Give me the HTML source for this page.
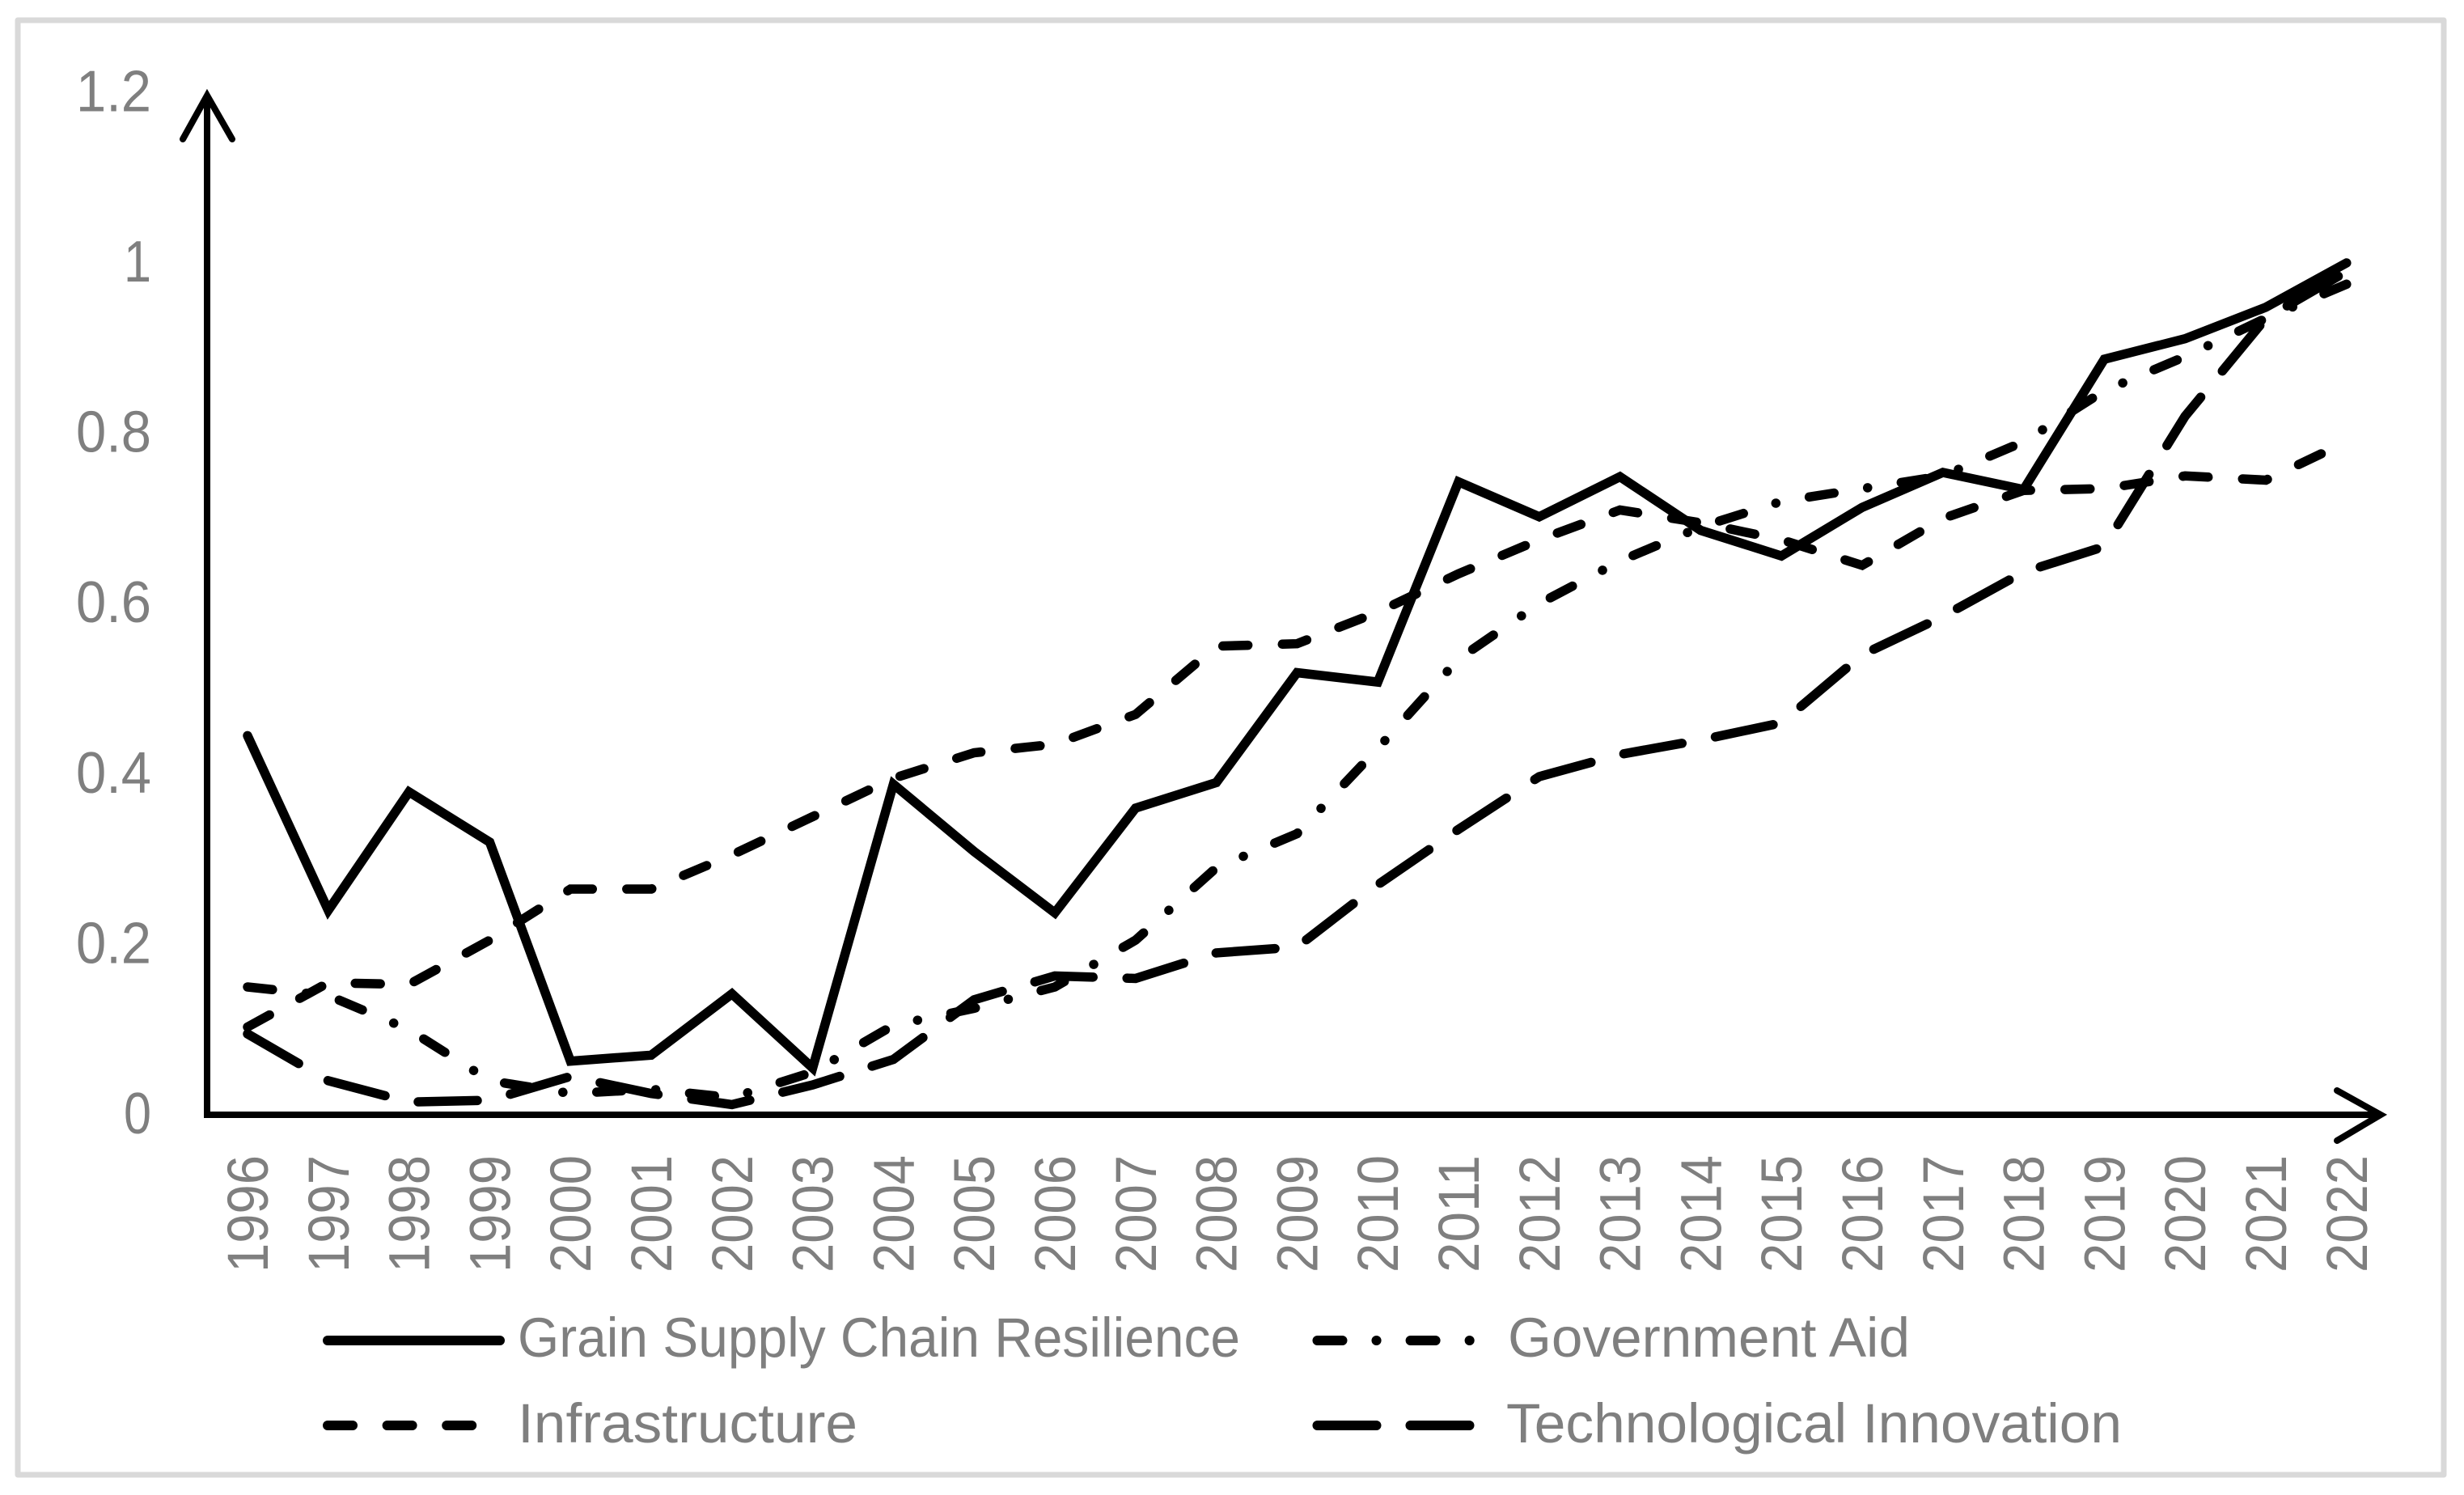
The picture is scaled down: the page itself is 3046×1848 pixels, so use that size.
<!DOCTYPE html>
<html lang="en">
<head>
<meta charset="utf-8">
<title>Grain Supply Chain Resilience Chart</title>
<style>
html,body{margin:0;padding:0;background:#fff;width:3046px;height:1848px;overflow:hidden}
svg{display:block}
text{font-family:"Liberation Sans",sans-serif;fill:#7f7f7f}
</style>
</head>
<body>
<svg id="chart" xmlns="http://www.w3.org/2000/svg" width="3046" height="1848" viewBox="0 0 3046 1848">
  <rect x="22" y="25" width="2999" height="1798" fill="#fff" stroke="#d9d9d9" stroke-width="7" stroke-linejoin="round"/>
  <g id="y-labels"></g>
  <g id="x-labels"></g>
  <g id="series" fill="none" stroke="#000" stroke-linecap="round" stroke-linejoin="miter"></g>
  <g fill="none" stroke="#000" stroke-width="8">
    <line x1="256" y1="1382" x2="256" y2="120"/>
    <polyline points="226,172 256,118 287,172" stroke-linecap="round"/>
  </g>
  <g fill="none" stroke="#000" stroke-width="8">
    <line x1="253" y1="1378" x2="2940" y2="1378"/>
    <polyline points="2889,1348 2943,1378 2889,1410" stroke-linecap="round"/>
  </g>
  <g>
    <g>
      <line x1="405" y1="1657" x2="618" y2="1657" stroke="#000" stroke-width="12" stroke-linecap="round"/>
      <text x="640" y="1677" font-size="69" textLength="893" lengthAdjust="spacingAndGlyphs">Grain Supply Chain Resilience</text>
    </g>
    <g>
      <line x1="1628.5" y1="1657" x2="1822" y2="1657" stroke="#000" stroke-width="12" stroke-linecap="round" stroke-dasharray="31 42 0.1 42"/>
      <text x="1864" y="1677" font-size="69" textLength="497" lengthAdjust="spacingAndGlyphs">Government Aid</text>
    </g>
    <g>
      <line x1="405" y1="1762" x2="590" y2="1762" stroke="#000" stroke-width="12" stroke-linecap="round" stroke-dasharray="31 42.6"/>
      <text x="640" y="1783" font-size="69" textLength="420" lengthAdjust="spacingAndGlyphs">Infrastructure</text>
    </g>
    <g>
      <line x1="1628.5" y1="1762" x2="1817" y2="1762" stroke="#000" stroke-width="12" stroke-linecap="round" stroke-dasharray="73 42"/>
      <text x="1862" y="1783" font-size="69" textLength="761" lengthAdjust="spacingAndGlyphs">Technological Innovation</text>
    </g>
  </g>
</svg>
<script>
const years = [1996,1997,1998,1999,2000,2001,2002,2003,2004,2005,2006,2007,2008,2009,2010,2011,2012,2013,2014,2015,2016,2017,2018,2019,2020,2021,2022];
const yTicks = ["0","0.2","0.4","0.6","0.8","1","1.2"];
const grainResilience = [0.445,0.24,0.379,0.32,0.063,0.07,0.142,0.055,0.388,0.309,0.237,0.36,0.39,0.519,0.508,0.743,0.702,0.749,0.686,0.656,0.713,0.754,0.734,0.887,0.911,0.948,1.0];
const governmentAid = [0.15,0.14,0.1,0.04,0.025,0.03,0.02,0.05,0.105,0.125,0.15,0.205,0.29,0.33,0.43,0.535,0.6,0.65,0.69,0.72,0.735,0.75,0.79,0.85,0.89,0.935,0.975];
const infrastructure = [0.103,0.155,0.153,0.205,0.265,0.265,0.305,0.35,0.395,0.425,0.435,0.47,0.55,0.553,0.59,0.635,0.675,0.71,0.695,0.675,0.645,0.7,0.733,0.735,0.75,0.745,0.79];
const technologicalInnovation = [0.095,0.04,0.015,0.017,0.045,0.025,0.012,0.035,0.065,0.135,0.163,0.16,0.19,0.197,0.27,0.335,0.397,0.423,0.44,0.46,0.54,0.585,0.637,0.667,0.82,0.935,0.99];

const NS = 'http://www.w3.org/2000/svg';
function xScale(i){ return 306 + 99.8 * i; }
function yScale(v){ return 1378 - 1053 * v; }

const yGroup = document.getElementById('y-labels');
yTicks.forEach(function(label){
  const t = document.createElementNS(NS, 'text');
  
  
  t.setAttribute('x', 187);
  t.setAttribute('y', yScale(parseFloat(label)) + 23);
  t.setAttribute('font-size', '72');
  t.setAttribute('text-anchor', 'end');
  t.textContent = label;
  t.setAttribute('textLength', label.length === 1 ? 34 : 93);
  t.setAttribute('lengthAdjust', 'spacingAndGlyphs');
  yGroup.appendChild(t);
});

const xGroup = document.getElementById('x-labels');
years.forEach(function(year, i){
  const t = document.createElementNS(NS, 'text');
  
  
  t.setAttribute('transform', 'translate(' + (xScale(i) + 25) + ',1573) rotate(-90)');
  t.setAttribute('font-size', '71');
  t.setAttribute('textLength', '145');
  t.setAttribute('lengthAdjust', 'spacingAndGlyphs');
  t.textContent = String(year);
  xGroup.appendChild(t);
});

function drawSeries(values, dash, name){
  const p = document.createElementNS(NS, 'polyline');
  
  
  p.setAttribute('points', values.map(function(v, i){ return xScale(i).toFixed(1) + ',' + yScale(v).toFixed(1); }).join(' '));
  p.setAttribute('stroke-width', '11.5');
  if (dash) p.setAttribute('stroke-dasharray', dash);
  document.getElementById('series').appendChild(p);
}
drawSeries(technologicalInnovation, '73 42', 'series-technological-innovation');
drawSeries(infrastructure, '31 42.6', 'series-infrastructure');
drawSeries(governmentAid, '31 42 0.1 42', 'series-government-aid');
drawSeries(grainResilience, '', 'series-grain-supply-chain-resilience');
</script>
</body>
</html>
